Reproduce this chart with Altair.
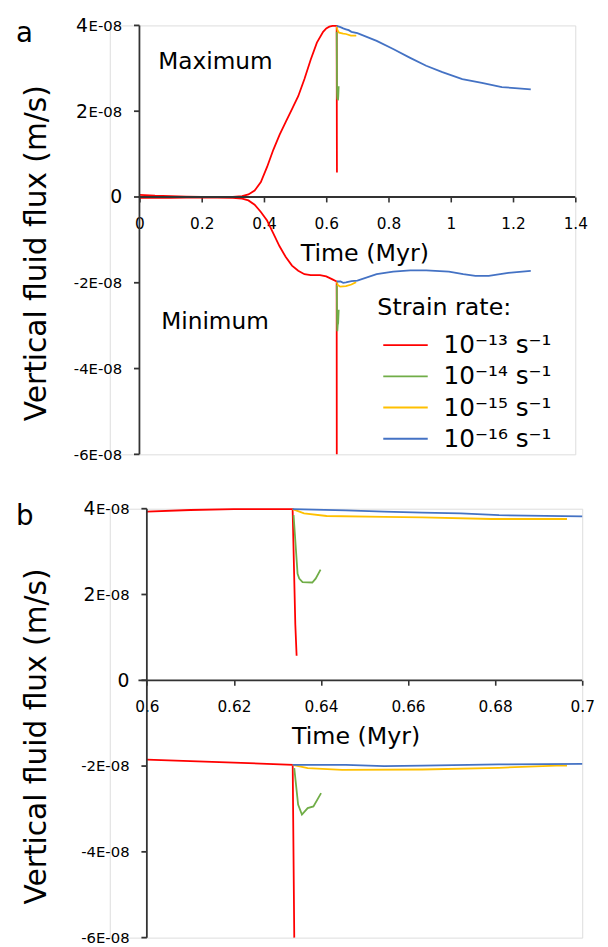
import altair as alt
import pandas as pd

FONT = "DejaVu Sans"

rates = ["10⁻¹³ s⁻¹", "10⁻¹⁴ s⁻¹", "10⁻¹⁵ s⁻¹", "10⁻¹⁶ s⁻¹"]
colors = ["#ff0000", "#70ad47", "#ffc000", "#4472c4"]

# values in units of 1E-08 m/s, time in Myr
red_max_t = [0, 0.05, 0.1, 0.15, 0.2, 0.25, 0.3, 0.33, 0.35, 0.37, 0.39, 0.41, 0.43, 0.45, 0.47, 0.49,
             0.51, 0.53, 0.55, 0.57, 0.59, 0.6, 0.61, 0.62, 0.63348, 0.6338, 0.6341, 0.6344]
red_max_v = [0.05, 0.03, 0.02, 0.01, 0.0, 0.0, 0.0, 0.02, 0.06, 0.15, 0.35, 0.7, 1.1, 1.45, 1.75, 2.05,
             2.35, 2.75, 3.2, 3.6, 3.85, 3.93, 3.97, 3.99, 3.99, 2.6, 1.3, 0.57]
red_min_t = [0, 0.1, 0.2, 0.3, 0.33, 0.35, 0.37, 0.39, 0.41, 0.43, 0.45, 0.47, 0.49, 0.51, 0.53, 0.55,
             0.58, 0.6, 0.62, 0.6335, 0.63386]
red_min_v = [-0.02, -0.02, -0.01, -0.02, -0.04, -0.08, -0.18, -0.35, -0.55, -0.85, -1.15, -1.4, -1.6,
             -1.72, -1.8, -1.82, -1.82, -1.85, -1.92, -1.97, -6.0]

green_max_t = [0.6337, 0.63462, 0.635, 0.63576, 0.638, 0.63877, 0.6399]
green_max_v = [3.85, 2.48, 2.37, 2.29, 2.28, 2.37, 2.58]
green_min_t = [0.63386, 0.63474, 0.63562, 0.63694, 0.63826, 0.64002]
green_min_v = [-2.05, -2.90, -3.13, -2.98, -2.94, -2.63]

yellow_max_t = [0.63348, 0.6361, 0.6413, 0.6545, 0.6633, 0.6792, 0.6965]
yellow_max_v = [3.99, 3.89, 3.83, 3.81, 3.80, 3.76, 3.76]
yellow_min_t = [0.63348, 0.63694, 0.64486, 0.6633, 0.6809, 0.6941, 0.6965]
yellow_min_v = [-1.97, -2.05, -2.09, -2.08, -2.04, -1.99, -1.99]

blue_max_t = [0.63348, 0.6457, 0.6545, 0.6633, 0.6721, 0.6809, 0.7, 0.762, 0.815, 0.868, 0.921, 0.973,
              1.037, 1.1, 1.164, 1.206, 1.257]
blue_max_v = [3.99, 3.96, 3.93, 3.91, 3.89, 3.85, 3.82, 3.64, 3.45, 3.25, 3.06, 2.91,
              2.75, 2.66, 2.56, 2.54, 2.51]
blue_min_t = [0.63348, 0.6457, 0.6545, 0.6633, 0.6809, 0.7, 0.762, 0.815, 0.87, 0.921, 0.994, 1.04,
              1.079, 1.122, 1.185, 1.257]
blue_min_v = [-1.97, -1.97, -2.0, -1.99, -1.96, -1.95, -1.80, -1.74, -1.71, -1.71, -1.74, -1.80,
              -1.84, -1.84, -1.77, -1.72]

y_ticks = [-6e-8, -4e-8, -2e-8, 0, 2e-8, 4e-8]
x_ticks_a = [0, 0.2, 0.4, 0.6, 0.8, 1.0, 1.2, 1.4]
x_ticks_b = [0.6, 0.62, 0.64, 0.66, 0.68, 0.7]
annotations = ["Maximum", "Minimum"]
panel_labels = ["a", "b"]
y_title = "Vertical fluid flux (m/s)"
x_title = "Time (Myr)"
legend_title = "Strain rate:"

series = [
    (rates[0], "max", red_max_t, red_max_v), (rates[0], "min", red_min_t, red_min_v),
    (rates[1], "max", green_max_t, green_max_v), (rates[1], "min", green_min_t, green_min_v),
    (rates[2], "max", yellow_max_t, yellow_max_v), (rates[2], "min", yellow_min_t, yellow_min_v),
    (rates[3], "max", blue_max_t, blue_max_v), (rates[3], "min", blue_min_t, blue_min_v),
]
rows = []
for rate, kind, ts, vs in series:
    for i, (t, v) in enumerate(zip(ts, vs)):
        rows.append({"rate": rate, "kind": kind, "t": t, "v": v * 1e-8, "i": i})
df = pd.DataFrame(rows)

H = 434
M = 30  # gap between the view's left edge and the y axis line
AXC = "#333333"
AX = dict(domainColor=AXC, tickColor=AXC, domainWidth=1.6, tickWidth=1.6,
          labelColor="black", titleColor="black", labelFont=FONT, titleFont=FONT,
          titleFontWeight="normal", grid=False, labelFlush=False, labelOverlap=False)

yscale = alt.Scale(domain=[y_ticks[0], y_ticks[-1]], nice=False, zero=False)


def y_axes(offset, title_x):
    axA = alt.Axis(values=y_ticks, orient="left", offset=offset, domain=False, ticks=False,
                   labelExpr="datum.value > 1e-12 ? '' + round(datum.value*1e8) : ''",
                   labelFontSize=19, labelPadding=52.5,
                   title=y_title, titleFontSize=30, titleX=title_x, titleY=230,
                   titleAlign="center", titleBaseline="alphabetic", titleAngle=270, **AX)
    axB = alt.Axis(values=y_ticks, orient="left", offset=offset, domain=False, ticks=False,
                   labelExpr="abs(datum.value) < 1e-12 ? '0' : (datum.value > 0 ? 'E-08' : '-' + round(abs(datum.value)*1e8) + 'E-08')",
                   labelFontSize={"condition": {"test": "abs(datum.value) < 1e-12", "value": 19}, "value": 15},
                   labelPadding=18, title=None, **AX)
    return axA, axB


def x_axis(values, fmt, title_x):
    return alt.Axis(values=values, format=fmt, orient="bottom", offset=-H * 0.6, tickSize=5,
                    domain=False, labelPadding=15, labelFontSize=15.5, title=x_title, titleFontSize=24,
                    titleX=title_x, titleY=64, titleAlign="center", titleBaseline="alphabetic", **AX)


legend = alt.Legend(orient="none", legendX=240.7 + M, legendY=274, title=legend_title,
                    titleFontSize=24, titleFont=FONT, titleFontWeight="normal", titleColor="black",
                    titlePadding=13, labelFontSize=25, labelFont=FONT, labelColor="black",
                    symbolType="M-3,0L3,0", symbolSize=225, symbolStrokeWidth=2, symbolOffset=16,
                    labelOffset=26, rowPadding=5.6, padding=0)


def axis_lines(x_pos, px_per_unit, xs, xaxis, right_px):
    # y axis line and its tick marks as line marks through both scales
    arows = [{"g": "dom", "t": x_pos, "v": y_ticks[0], "o": 0},
             {"g": "dom", "t": x_pos, "v": y_ticks[-1], "o": 1}]
    for k, yv in enumerate(y_ticks):
        arows.append({"g": "tick%d" % k, "t": x_pos - 5.5 / px_per_unit, "v": yv, "o": 0})
        arows.append({"g": "tick%d" % k, "t": x_pos, "v": yv, "o": 1})
    axis_line = alt.Chart(pd.DataFrame(arows)).mark_line(color=AXC, strokeWidth=1.8).encode(
        x=alt.X("t:Q", scale=xs, axis=xaxis),
        y=alt.Y("v:Q", scale=yscale, axis=None),
        detail="g:N", order="o:Q")
    zero = alt.Chart(pd.DataFrame({"v": [0.0]})).mark_rule(
        color=AXC, strokeWidth=1.8).encode(
        x=alt.value(M - 1), x2=alt.value(right_px), y=alt.Y("v:Q", scale=yscale, axis=None))
    return [axis_line, zero]


def panel(xdom, width, x_pos, px_per_unit, xaxis, yoffset, title_x, show_legend, label, filt=None):
    axA, axB = y_axes(yoffset, title_x)
    xs = alt.Scale(domain=xdom, nice=False, zero=False)
    base = alt.Chart(df)
    if filt is not None:
        base = base.transform_filter(filt)
    layers = []
    for kind, ax in (("max", axA), ("min", axB)):
        layers.append(
            base.transform_filter(alt.datum.kind == kind).mark_line(strokeWidth=1.8).encode(
                x=alt.X("t:Q", scale=xs, axis=xaxis),
                y=alt.Y("v:Q", scale=yscale, axis=ax),
                color=alt.Color("rate:N", scale=alt.Scale(domain=rates, range=colors),
                                legend=legend if show_legend else None),
                detail="kind:N",
                order="i:Q",
            ))
    layers += axis_lines(x_pos, px_per_unit, xs, xaxis, width)
    lab = alt.Chart(pd.DataFrame({"s": [label]})).mark_text(
        align="left", baseline="alphabetic", fontSize=28, font=FONT, color="black").encode(
        x=alt.value(-125 + M), y=alt.value(16.7), text="s:N")
    layers.append(lab)
    return layers


WA = 441 + M
xa_axis = x_axis(x_ticks_a, ".1~f", 227.5 + M)
layers_a = panel([-M / 315.0, 1.4], WA, 0.0, 315.0, xa_axis, -M, -95, True, panel_labels[0])
ann_max = alt.Chart(pd.DataFrame({"s": [annotations[0]]})).mark_text(
    align="left", baseline="alphabetic", fontSize=23.5, font=FONT, color="black").encode(
    x=alt.value(19 + M), y=alt.value(44.2), text="s:N")
ann_min = alt.Chart(pd.DataFrame({"s": [annotations[1]]})).mark_text(
    align="left", baseline="alphabetic", fontSize=23.5, font=FONT, color="black").encode(
    x=alt.value(22 + M), y=alt.value(306.7), text="s:N")
chart_a = alt.layer(*layers_a, ann_max, ann_min).resolve_axis(y="independent").properties(
    width=WA, height=H)

WB = 448 + M
x0b = 0.6 - (7.5 + M) / 4405.0
xb_axis = x_axis(x_ticks_b, ".2~f", 218.7 + M)
layers_b = panel([x0b, 0.7], WB, 0.6, 4405.0, xb_axis, -(7.5 + M), -102.5, False,
                 panel_labels[1], filt=(alt.datum.t >= 0.6) & (alt.datum.t <= 0.7))
chart_b = alt.layer(*layers_b).resolve_axis(y="independent").properties(width=WB, height=H)

chart = alt.vconcat(chart_a, chart_b, spacing=34).properties(
    padding={"left": 7, "top": 2, "right": 5, "bottom": 5}
).configure_view(stroke=None).configure(font=FONT)

chart.save("out.html", embed_options={"renderer": "svg", "actions": False})
